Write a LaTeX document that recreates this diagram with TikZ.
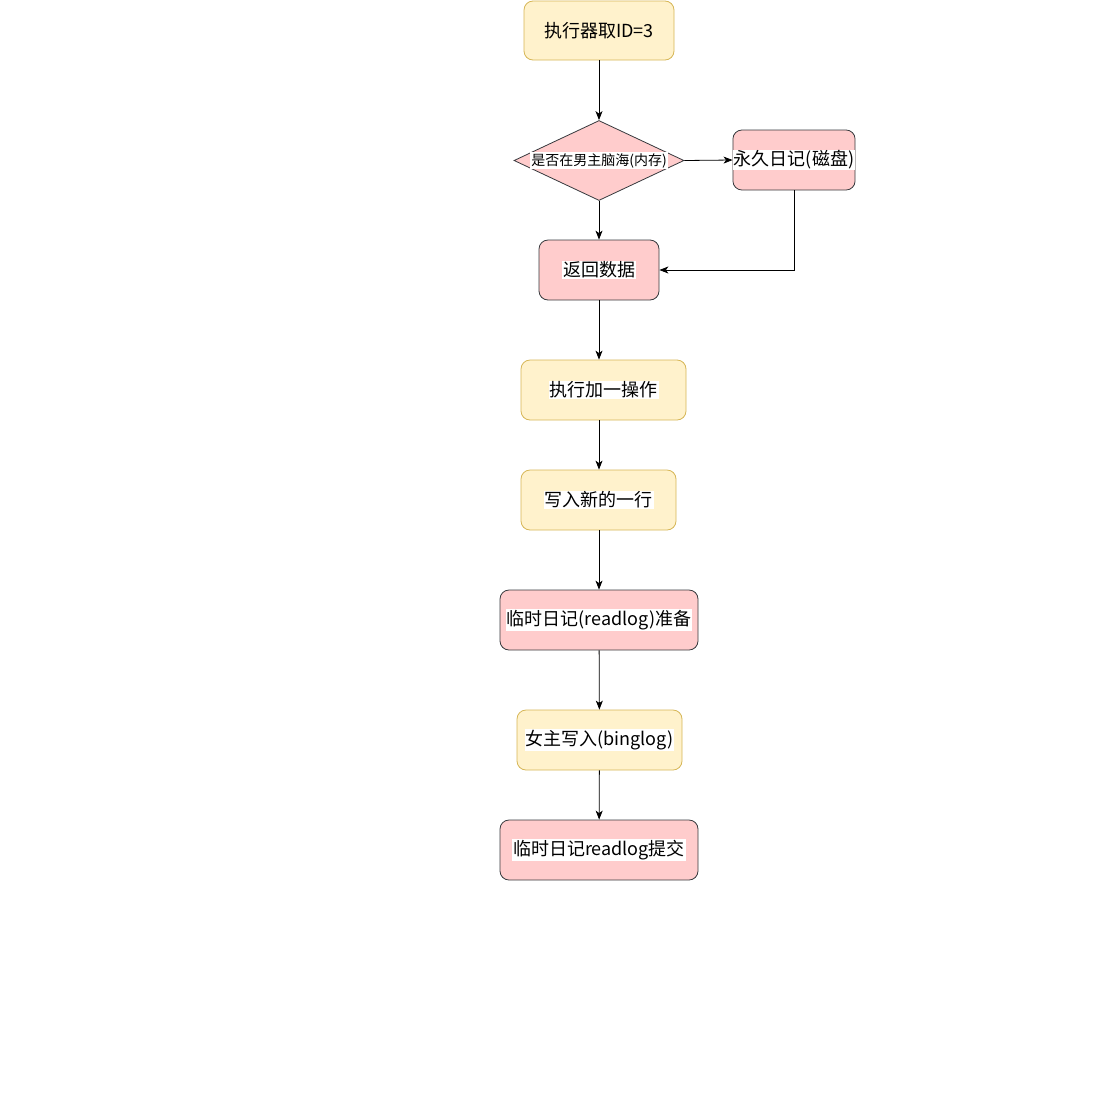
\documentclass[tikz,border=0pt]{standalone}
\usepackage{fontspec}
\setmainfont{Noto Sans CJK SC}
\usetikzlibrary{shapes.geometric,arrows.meta}
\definecolor{yfill}{HTML}{FFF2CC}
\definecolor{ydraw}{HTML}{D6B656}
\definecolor{pfill}{HTML}{FFCCCC}
\definecolor{pdraw}{HTML}{36393D}
\newcommand{\wb}[1]{\setlength\fboxsep{1pt}\colorbox{white}{#1}}
\tikzset{
  base/.style={rounded corners=9, line width=0.8pt, inner sep=0pt, font=\fontsize{18}{21}\selectfont},
  ybox/.style={base, draw=ydraw, fill=yfill},
  pbox/.style={base, draw=pdraw, fill=pfill},
  dia/.style={diamond, draw=pdraw, fill=pfill, line width=0.8pt, inner sep=0pt, aspect=2.125,
    minimum width=170, minimum height=80, font=\fontsize{14}{17}\selectfont},
  arr/.style={-{Stealth[length=9pt,width=7pt,inset=2.5pt]}, line width=0.8pt, black}
}
\begin{document}
\begin{tikzpicture}[x=1pt,y=-1pt]
\useasboundingbox (0,0) rectangle (1111,1101);
\node[ybox, minimum width=150, minimum height=59] (start) at (599,30.5) {执行器取ID=3};
\node[dia] (mem) at (599,160.5) {\makebox[0pt]{\wb{是否在男主脑海(内存)}}};
\node[pbox, minimum width=120, minimum height=60] (disk) at (794,160) {\wb{永久日记(磁盘)}};
\node[pbox, minimum width=120, minimum height=60] (ret) at (599,270) {\wb{返回数据}};
\node[ybox, minimum width=165, minimum height=60] (add) at (603.5,390) {\wb{执行加一操作}};
\node[ybox, minimum width=155, minimum height=60] (write) at (598.5,500) {\wb{写入新的一行}};
\node[pbox, minimum width=198, minimum height=60] (prep) at (599,620) {\wb{临时日记(readlog)准备}};
\node[ybox, minimum width=165, minimum height=60] (bin) at (599.5,740) {\wb{女主写入(binglog)}};
\node[pbox, minimum width=198, minimum height=60] (commit) at (599,850) {\wb{临时日记readlog提交}};
\draw[arr] (start) -- (mem);
\draw[arr] (mem.east) -- (disk.west);
\draw[arr] (mem) -- (ret);
\draw[arr] (disk.south) |- (ret.east);
\draw[arr] (ret.south) -- (ret.south |- add.north);
\draw[arr] (add.south -| ret.south) -- (write.north -| ret.south);
\draw[arr] (write.south -| ret.south) -- (prep.north);
\draw[arr] (prep) -- (bin);
\draw[arr] (bin) -- (commit);
\end{tikzpicture}
\end{document}
